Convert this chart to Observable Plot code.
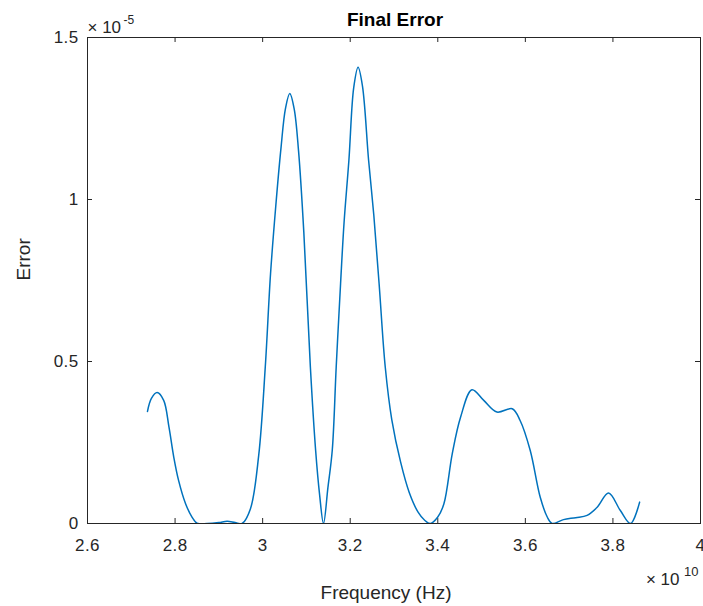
<!DOCTYPE html>
<html><head><meta charset="utf-8">
<script src="https://cdn.jsdelivr.net/npm/d3@7"></script>
<script src="https://cdn.jsdelivr.net/npm/@observablehq/plot@0.6"></script>
<style>body{margin:0;background:#fff}</style>
</head><body><div id="chart"></div>
<script>
// Frequency in units of 1e10 Hz
const freq = [2.737, 2.746, 2.759, 2.774, 2.786, 2.797, 2.808, 2.824, 2.839, 2.850, 2.873, 2.900, 2.919, 2.937, 2.953,
  2.972, 2.991, 3.006, 3.018, 3.030, 3.042, 3.052, 3.062, 3.072, 3.082, 3.094, 3.109, 3.121, 3.130, 3.139,
  3.149, 3.159, 3.168, 3.178, 3.186, 3.197, 3.208, 3.218, 3.228, 3.242, 3.254, 3.266, 3.280, 3.295, 3.315, 3.335, 3.355, 3.370, 3.383,
  3.400, 3.414, 3.433, 3.452, 3.478, 3.505, 3.535, 3.570, 3.588, 3.611, 3.634, 3.650, 3.661, 3.687, 3.715, 3.741, 3.764, 3.790, 3.817, 3.840, 3.861];
// Error in units of 1e-5
const err = [0.346, 0.386, 0.404, 0.380, 0.298, 0.205, 0.133, 0.061, 0.019, 0.001, 0.000, 0.003, 0.007, 0.003, 0.000,
  0.045, 0.210, 0.483, 0.770, 0.980, 1.160, 1.280, 1.327, 1.280, 1.150, 0.900, 0.483, 0.226, 0.090, 0.000,
  0.110, 0.226, 0.483, 0.741, 0.930, 1.121, 1.345, 1.408, 1.350, 1.121, 0.950, 0.740, 0.483, 0.320, 0.190, 0.095, 0.035, 0.010, 0.000,
  0.020, 0.061, 0.215, 0.328, 0.413, 0.380, 0.344, 0.354, 0.318, 0.226, 0.081, 0.020, 0.000, 0.012, 0.018, 0.025, 0.050, 0.094, 0.040, 0.000, 0.066];
const xTicks = [2.6, 2.8, 3, 3.2, 3.4, 3.6, 3.8, 4];
const yTicks = [0, 0.5, 1, 1.5];
const titleText = "Final Error";
const xLabel = "Frequency (Hz)";
const yLabel = "Error";
const xExp = ["× 10", "10"];
const yExp = ["× 10", "-5"];

const data = freq.map((f, i) => ({f, e: err[i]}));
const W = 703, H = 606, mL = 87, mR = 3, mT = 37, mB = 83;
const fh = H - mT - mB, fw = W - mL - mR;
const ink = "#262626";

const chart = Plot.plot({
  width: W, height: H, marginLeft: mL, marginRight: mR, marginTop: mT, marginBottom: mB,
  style: {fontFamily: "'Liberation Sans', Arial, sans-serif", fontSize: "17px", color: ink, background: "#fff", overflow: "visible"},
  x: {domain: [2.6, 4]},
  y: {domain: [0, 1.5]},
  marks: [
    Plot.axisX(xTicks, {tickSize: 0, tickPadding: 15, tickFormat: d => String(d), label: null, fontSize: 17, fill: ink}),
    Plot.axisY(yTicks, {tickSize: 0, tickPadding: 9, tickFormat: d => String(d), label: null, fontSize: 17, fill: ink}),
    Plot.tickX(xTicks, {x: d => d, insetTop: fh - 5, stroke: ink}),
    Plot.tickX(xTicks, {x: d => d, insetBottom: fh - 5, stroke: ink}),
    Plot.tickY(yTicks, {y: d => d, insetRight: fw - 5, stroke: ink}),
    Plot.tickY(yTicks, {y: d => d, insetLeft: fw - 5, stroke: ink}),
    Plot.frame({stroke: ink, strokeWidth: 1}),
    Plot.line(data, {x: "f", y: "e", stroke: "#0072BD", strokeWidth: 1.5, curve: "catmull-rom", clip: true}),
    Plot.text([titleText], {frameAnchor: "top", dx: 1, dy: -12, lineAnchor: "bottom", fontWeight: "bold", fontSize: 19, fill: "#000", ariaLabel: "title"}),
    Plot.text([yLabel], {frameAnchor: "left", dx: -64, rotate: -90, fontSize: 19, fill: ink, ariaLabel: "ylabel"}),
    Plot.text([xLabel], {frameAnchor: "bottom", dx: -8, dy: 75, lineAnchor: "bottom", fontSize: 19, fill: ink, ariaLabel: "xlabel"}),
    Plot.text([yExp[0]], {frameAnchor: "top-left", textAnchor: "start", lineAnchor: "bottom", dy: -5, fontSize: 17, fill: ink}),
    Plot.text([yExp[1]], {frameAnchor: "top-left", textAnchor: "start", lineAnchor: "bottom", dx: 36, dy: -14, fontSize: 12, fill: ink}),
    Plot.text([xExp[0]], {frameAnchor: "bottom-right", textAnchor: "end", lineAnchor: "bottom", dx: -21, dy: 61, fontSize: 17, fill: ink}),
    Plot.text([xExp[1]], {frameAnchor: "bottom-right", textAnchor: "end", lineAnchor: "bottom", dx: -2, dy: 52, fontSize: 13, fill: ink})
  ]
});
const svg = d3.select(chart);
svg.selectAll('g[aria-label="title"] text').attr("letter-spacing", "1.2px");
svg.selectAll('g[aria-label="xlabel"] text, g[aria-label="ylabel"] text').attr("letter-spacing", "1.1px");
svg.selectAll('g[aria-label="x-axis tick label"] text, g[aria-label="y-axis tick label"] text').attr("letter-spacing", "0.4px");
document.getElementById("chart").appendChild(chart);
</script>
</body></html>
